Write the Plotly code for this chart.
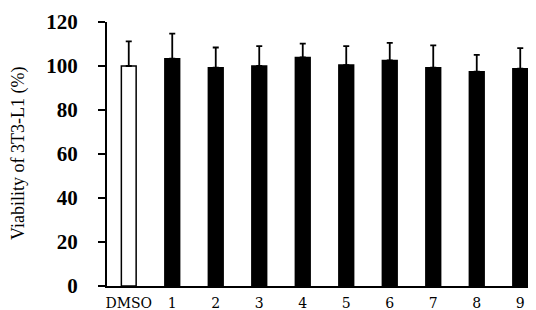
import plotly.graph_objects as go

categories = ["DMSO", "1", "2", "3", "4", "5", "6", "7", "8", "9"]
viability = [100.0, 103.3, 99.2, 100.0, 103.9, 100.4, 102.5, 99.2, 97.4, 98.8]
errors_plus = [11.2, 11.4, 9.2, 9.0, 6.3, 8.6, 8.0, 10.2, 7.7, 9.3]
y_ticks = [0, 20, 40, 60, 80, 100, 120]

fill_colors = ["white"] + ["black"] * (len(categories) - 1)

fig = go.Figure()
fig.add_trace(go.Bar(
    x=categories,
    y=viability,
    width=0.34,
    marker=dict(color=fill_colors, line=dict(color="black", width=1.5)),
    error_y=dict(type="data", symmetric=False, array=errors_plus,
                 arrayminus=[0] * len(categories),
                 color="black", thickness=1.8, width=3),
))

fig.update_layout(
    width=536, height=310,
    margin=dict(l=99, r=2, t=11, b=32),
    plot_bgcolor="white", paper_bgcolor="white",
    showlegend=False,
    xaxis=dict(
        type="category", range=[-0.5, 9.5],
        showline=True, linecolor="black", linewidth=2,
        ticks="", showgrid=False, zeroline=False,
        ticklabelstandoff=3,
        tickfont=dict(family="DejaVu Serif", size=14, color="black"),
    ),
    yaxis=dict(
        range=[0, 120], tickvals=y_ticks,
        ticktext=["<b>%d</b>" % v for v in y_ticks],
        showline=True, linecolor="black", linewidth=2,
        ticks="outside", ticklen=7, tickwidth=2, tickcolor="black",
        showgrid=False, zeroline=False,
        ticklabelstandoff=16, ticklabeloverflow="allow",
        tickfont=dict(family="Liberation Serif", size=21, color="black"),
    ),
    annotations=[dict(
        text="Viability of 3T3-L1 (%)", textangle=-90,
        xref="paper", yref="paper", x=0, y=0.5,
        xanchor="center", yanchor="middle", xshift=-89, showarrow=False,
        font=dict(family="Liberation Serif", size=18, color="black"),
    )],
)

fig.write_html("out.html")
